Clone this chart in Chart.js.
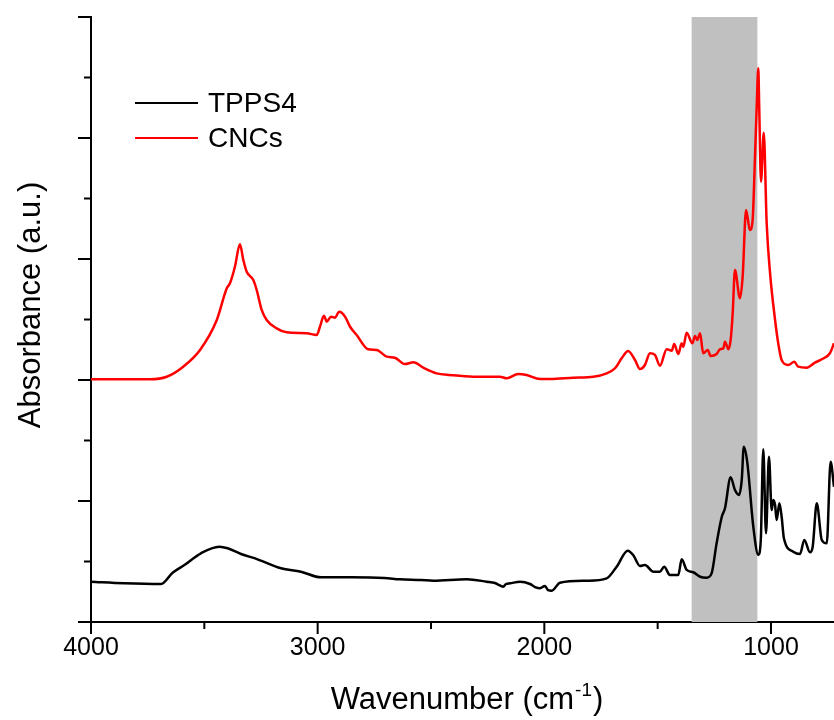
<!DOCTYPE html>
<html>
<head>
<meta charset="utf-8">
<script src="https://cdn.jsdelivr.net/npm/chart.js@4.4.0/dist/chart.umd.min.js"></script>
<style>
  body { margin: 0; background: #fff; }
  #wrap { width: 834px; height: 720px; }
</style>
</head>
<body>
<div id="wrap"><canvas id="ftirChart" width="834" height="720"></canvas></div>
<script>
// ---- data (wavenumber in cm-1, absorbance offset in a.u.) ----
const cncWavenumbers = [4000, 3740, 3666, 3593, 3519, 3445, 3401, 3387, 3365, 3343, 3328, 3313, 3284, 3269, 3247, 3225,
  3181, 3137, 3048, 3004, 2990, 2972, 2960, 2941, 2924, 2905, 2879, 2857, 2828, 2777, 2740, 2695, 2659, 2615, 2578,
  2534, 2475, 2416, 2313, 2196, 2166, 2115, 2078, 2019, 1975, 1872, 1784, 1725, 1688, 1659, 1630, 1600, 1578, 1556,
  1534, 1512, 1490, 1460, 1438, 1427, 1409, 1394, 1387, 1372, 1347, 1335, 1325, 1313, 1299, 1279, 1266, 1240, 1225,
  1210, 1203, 1188, 1178, 1169, 1159, 1137, 1125, 1110, 1093, 1081, 1071, 1063, 1056, 1052, 1044, 1032, 1019, 1004,
  982, 968, 953, 924, 897, 880, 842, 806, 776, 740, 722];
const cncAbsorbance = [2.006, 2.006, 2.027, 2.110, 2.248, 2.496, 2.758, 2.799, 2.936, 3.121, 2.992, 2.895, 2.826, 2.744, 2.579, 2.496,
  2.427, 2.394, 2.386, 2.372, 2.440, 2.531, 2.482, 2.523, 2.515, 2.564, 2.523, 2.440, 2.372, 2.254, 2.248, 2.193, 2.184, 2.132, 2.146,
  2.102, 2.055, 2.041, 2.027, 2.027, 2.014, 2.050, 2.041, 2.008, 2.008, 2.019, 2.027, 2.055, 2.097, 2.179, 2.240, 2.165, 2.091, 2.124,
  2.221, 2.207, 2.118, 2.255, 2.242, 2.298, 2.215, 2.303, 2.275, 2.391, 2.303, 2.364, 2.331, 2.386, 2.221, 2.248, 2.198, 2.215, 2.254,
  2.262, 2.317, 2.254, 2.331, 2.551, 2.909, 2.675, 2.854, 3.405, 3.240, 3.322, 3.818, 4.260, 4.576, 4.260, 3.639, 4.044, 3.295, 2.882,
  2.496, 2.303, 2.165, 2.124, 2.151, 2.110, 2.102, 2.143, 2.171, 2.221, 2.303];

const tppsWavenumbers = [4000, 3853, 3691, 3640, 3588, 3515, 3434, 3397, 3338, 3265, 3162, 3074, 2985, 2853, 2706, 2637, 2544,
  2490, 2342, 2254, 2218, 2196, 2181, 2169, 2151, 2107, 2063, 2041, 2019, 1997, 1984, 1967, 1931, 1813, 1725, 1681, 1632,
  1608, 1578, 1556, 1519, 1490, 1471, 1446, 1409, 1394, 1372, 1343, 1313, 1284, 1262, 1240, 1217, 1203, 1178, 1159, 1141,
  1129, 1120, 1105, 1078, 1056, 1045, 1034, 1022, 1009, 997, 990, 982, 975, 963, 953, 943, 902, 872, 853, 828, 816, 798,
  776, 754, 737, 722];
const tppsAbsorbance = [0.333, 0.320, 0.314, 0.407, 0.471, 0.568, 0.622, 0.609, 0.562, 0.518, 0.444, 0.416, 0.369, 0.369, 0.364, 0.353, 0.347,
  0.341, 0.353, 0.333, 0.322, 0.302, 0.292, 0.314, 0.320, 0.333, 0.314, 0.289, 0.279, 0.298, 0.264, 0.259, 0.325, 0.341, 0.361, 0.457, 0.589,
  0.554, 0.463, 0.471, 0.416, 0.416, 0.457, 0.388, 0.388, 0.518, 0.430, 0.411, 0.374, 0.366, 0.402, 0.650, 0.870, 0.940, 1.196, 1.091, 1.050,
  1.174, 1.449, 1.325, 0.788, 0.554, 0.678, 1.427, 0.733, 1.366, 0.926, 1.008, 0.967, 0.843, 0.981, 0.870, 0.692, 0.581, 0.562, 0.678, 0.576, 0.622, 0.981,
  0.678, 0.650, 1.325, 1.118];

const xMajorTicks = [4000, 3000, 2000, 1000];
const xMinorTicks = [3500, 2500, 1500];
const yMajorTicks = [0, 1, 2, 3, 4, 5];
const yMinorTicks = [0.5, 1.5, 2.5, 3.5, 4.5];
const bandRange = [1350, 1060];   // shaded region (cm-1)

const seriesNames = ['TPPS4', 'CNCs'];
const seriesColors = ['#000000', '#ff0000'];

const FONT = "'Liberation Sans', Arial, sans-serif";

function toPoints(xs, ys) {
  return xs.map((x, i) => ({ x: x, y: ys[i] }));
}

// band, tick marks, legend and axis titles
const decorPlugin = {
  id: 'decor',
  beforeDatasetsDraw(chart) {
    const { ctx, chartArea, scales } = chart;
    const a = scales.x.getPixelForValue(bandRange[0]);
    const b = scales.x.getPixelForValue(bandRange[1]);
    ctx.save();
    ctx.fillStyle = '#c0c0c0';
    ctx.fillRect(Math.min(a, b), chartArea.top, Math.abs(b - a), chartArea.bottom - chartArea.top);
    ctx.restore();
  },
  afterDraw(chart) {
    const { ctx, chartArea, scales } = chart;
    const xs = scales.x, ys = scales.y;
    ctx.save();
    ctx.strokeStyle = '#000';
    ctx.lineWidth = 2;
    ctx.beginPath();
    xMajorTicks.forEach(v => { const p = xs.getPixelForValue(v); ctx.moveTo(p, chartArea.bottom); ctx.lineTo(p, chartArea.bottom + 12); });
    xMinorTicks.forEach(v => { const p = xs.getPixelForValue(v); ctx.moveTo(p, chartArea.bottom); ctx.lineTo(p, chartArea.bottom + 7); });
    yMajorTicks.forEach(v => { const p = ys.getPixelForValue(v); ctx.moveTo(chartArea.left, p); ctx.lineTo(chartArea.left - 13, p); });
    yMinorTicks.forEach(v => { const p = ys.getPixelForValue(v); ctx.moveTo(chartArea.left, p); ctx.lineTo(chartArea.left - 7, p); });
    ctx.stroke();

    // legend
    ctx.font = '28px ' + FONT;
    ctx.fillStyle = '#000';
    ctx.textBaseline = 'middle';
    ctx.textAlign = 'left';
    seriesNames.forEach((name, i) => {
      const y = 103 + i * 35;
      ctx.strokeStyle = seriesColors[i];
      ctx.beginPath();
      ctx.moveTo(135, y);
      ctx.lineTo(198, y);
      ctx.stroke();
      ctx.fillText(name, 208, y + 1);
    });

    // y title
    ctx.save();
    ctx.translate(31, 305);
    ctx.rotate(-Math.PI / 2);
    ctx.textAlign = 'center';
    ctx.font = '31px ' + FONT;
    ctx.fillText('Absorbance (a.u.)', 0, 0);
    ctx.restore();

    // x title with superscript
    const main = 'Wavenumber (cm', sup = '-1', tail = ')';
    ctx.font = '31px ' + FONT;
    const w1 = ctx.measureText(main).width;
    const w3 = ctx.measureText(tail).width;
    ctx.font = '19px ' + FONT;
    const w2 = ctx.measureText(sup).width;
    let x0 = 466 - (w1 + w2 + w3) / 2;
    const yb = 709;
    ctx.textBaseline = 'alphabetic';
    ctx.font = '31px ' + FONT;
    ctx.fillText(main, x0, yb);
    ctx.font = '19px ' + FONT;
    ctx.fillText(sup, x0 + w1 + 1, yb - 13);
    ctx.font = '31px ' + FONT;
    ctx.fillText(tail, x0 + w1 + w2 + 2, yb);
    ctx.restore();
  }
};

new Chart(document.getElementById('ftirChart'), {
  type: 'line',
  data: {
    datasets: [
      {
        label: seriesNames[0],
        data: toPoints(tppsWavenumbers, tppsAbsorbance),
        borderColor: seriesColors[0],
        borderWidth: 2.5,
        pointRadius: 0,
        cubicInterpolationMode: 'monotone',
        fill: false
      },
      {
        label: seriesNames[1],
        data: toPoints(cncWavenumbers, cncAbsorbance),
        borderColor: seriesColors[1],
        borderWidth: 2.5,
        pointRadius: 0,
        cubicInterpolationMode: 'monotone',
        fill: false
      }
    ]
  },
  options: {
    responsive: false,
    animation: false,
    events: [],
    layout: { padding: { top: 17, right: 0, left: 0, bottom: 0 } },
    plugins: { legend: { display: false }, tooltip: { enabled: false } },
    scales: {
      x: {
        type: 'linear',
        reverse: true,
        min: 722,
        max: 4000,
        afterFit: s => { s.height = 98; },
        afterBuildTicks: s => { s.ticks = xMajorTicks.map(v => ({ value: v })); },
        grid: { display: false, drawTicks: false },
        border: { display: true, color: '#000', width: 2 },
        ticks: {
          color: '#000', padding: 11, maxRotation: 0,
          font: { family: FONT, size: 25 },
          callback: v => String(v)
        }
      },
      y: {
        type: 'linear',
        min: 0,
        max: 5,
        afterFit: s => { s.width = 91; },
        grid: { display: false, drawTicks: false },
        border: { display: true, color: '#000', width: 2 },
        ticks: { display: false }
      }
    }
  },
  plugins: [decorPlugin]
});
</script>
</body>
</html>
